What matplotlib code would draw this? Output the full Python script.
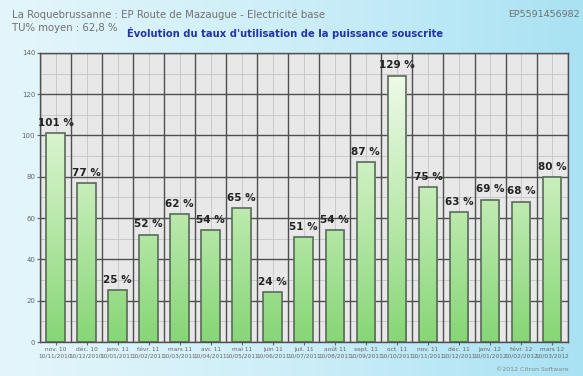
import numpy as np
import matplotlib.pyplot as plt
from matplotlib.colors import LinearSegmentedColormap

# taux d'utilisation mensuel (%)
values = [101, 77, 25, 52, 62, 54, 65, 24, 51, 54, 87, 129, 75, 63, 69, 68, 80]
months = ["nov. 10", "déc. 10", "janv. 11", "févr. 11", "mars 11", "avr. 11",
          "mai 11", "juin 11", "juil. 11", "août 11", "sept. 11", "oct. 11",
          "nov. 11", "déc. 11", "janv. 12", "févr. 12", "mars 12"]
periods = ["10/11/2010", "10/12/2010", "10/01/2011", "10/02/2011", "10/03/2011",
           "10/04/2011", "10/05/2011", "10/06/2011", "10/07/2011", "10/08/2011",
           "10/09/2011", "10/10/2011", "10/11/2011", "10/12/2011", "10/01/2012",
           "10/02/2012", "10/03/2012"]
yticks = [0, 20, 40, 60, 80, 100, 120, 140]

fig = plt.figure(figsize=(5.83, 3.76), dpi=100)

# fond dégradé cyan
bg = fig.add_axes([0, 0, 1, 1], zorder=-10)
grad = np.linspace(0, 1, 256).reshape(1, -1)
bg_cmap = LinearSegmentedColormap.from_list("bg", ["#e4f6fb", "#cdeef8", "#a9e2f3"])
bg.imshow(grad, aspect="auto", cmap=bg_cmap, extent=[0, 1, 0, 1])
bg.axis("off")

ax = fig.add_axes([0.0686, 0.0904, 0.905, 0.769])
ax.set_facecolor("#e8e8e8")
n = len(values)
x = np.arange(n)

# grille
for b in np.arange(-0.5, n, 1.0):
    ax.axvline(b, color="#4f4f4f", lw=1.0, zorder=1)
for c in x:
    ax.axvline(c, color="#c4c4c4", lw=0.6, zorder=0.5)
for t in yticks:
    ax.axhline(t, color="#4f4f4f", lw=1.0, zorder=1)
for t in np.arange(10, 140, 20):
    ax.axhline(t, color="#c4c4c4", lw=0.6, zorder=0.5)

bar_cmap = LinearSegmentedColormap.from_list("bar", ["#86d676", "#c2ecb4", "#f6fdf2"])
w = 0.6
bars = ax.bar(x, values, width=w, color="none", edgecolor="#5a6a5a", lw=1.2, zorder=3)
vgrad = np.linspace(0, 1, 256).reshape(-1, 1)
for bar, v in zip(bars, values):
    x0 = bar.get_x()
    im = ax.imshow(vgrad, cmap=bar_cmap, origin="lower", aspect="auto",
                   extent=[x0, x0 + w, 0, 140], vmin=0, vmax=1, zorder=2)
    im.set_clip_path(bar)
    ax.text(x0 + w / 2, v + 2.5, "%d %%" % v, ha="center", va="bottom",
            fontsize=7.5, fontweight="bold", color="#222222", zorder=4)
ax.set_xlim(-0.5, n - 0.5)
ax.set_ylim(0, 140)

ax.set_yticks(yticks)
ax.set_yticklabels([str(t) for t in yticks], fontsize=5, color="#666666")
ax.set_xticks(x)
ax.set_xticklabels([m + "\n" + p for m, p in zip(months, periods)],
                   fontsize=4.2, color="#666666", linespacing=1.4)
ax.tick_params(length=2, pad=1.5, colors="#666666")
for s in ax.spines.values():
    s.set_color("#4f4f4f")
    s.set_linewidth(1.0)

fig.text(0.02, 0.962, "La Roquebrussanne : EP Route de Mazaugue - Electricité base",
         fontsize=7.3, color="#707070", va="center")
fig.text(0.02, 0.925, "TU% moyen : 62,8 %", fontsize=7.3, color="#707070", va="center")
fig.text(0.995, 0.962, "EP5591456982", fontsize=6.8, color="#707070", va="center", ha="right")
fig.text(0.218, 0.913, "Évolution du taux d'utilisation de la puissance souscrite",
         fontsize=7.2, fontweight="bold", color="#2333a8", va="center")
fig.text(0.975, 0.01, "©2012 Citron Software", fontsize=4.5, color="#888888",
         ha="right", va="bottom")

fig.savefig("out.png", dpi=100)
